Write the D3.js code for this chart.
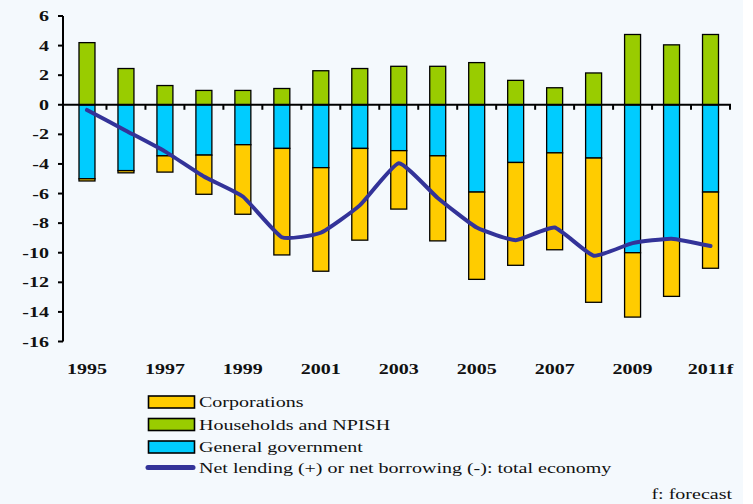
<!DOCTYPE html>
<html>
<head>
<meta charset="utf-8">
<script src="https://cdn.jsdelivr.net/npm/d3@7"></script>
<style>
  html, body { margin: 0; padding: 0; background: #ffffff; }
  svg { display: block; }
  text { font-family: "Liberation Serif", "Times New Roman", serif; fill: #111; }
</style>
</head>
<body>
<svg id="chart" width="753" height="504"></svg>
<script>
// Net lending / borrowing by sector, % of GDP
const years = ["1995","1996","1997","1998","1999","2000","2001","2002","2003",
               "2004","2005","2006","2007","2008","2009","2010","2011"];
const tickLabels = ["1995","1997","1999","2001","2003","2005","2007","2009","2011f"];
const tickYears  = ["1995","1997","1999","2001","2003","2005","2007","2009","2011"];
const yTicks = [6, 4, 2, 0, -2, -4, -6, -8, -10, -12, -14, -16];

const households   = [4.2, 2.45, 1.3, 0.97, 0.97, 1.1, 2.3, 2.45, 2.6, 2.6, 2.85, 1.65, 1.15, 2.15, 4.75, 4.05, 4.75];
const government   = [-5.0, -4.45, -3.45, -3.4, -2.7, -2.95, -4.25, -2.95, -3.1, -3.45, -5.9, -3.9, -3.25, -3.6, -10.0, -9.05, -5.9];
const corporations = [-0.15, -0.15, -1.1, -2.65, -4.7, -7.2, -7.0, -6.2, -3.95, -5.75, -5.9, -6.95, -6.55, -9.75, -4.35, -3.9, -5.15];
const netLending   = [-0.35, -1.75, -3.15, -4.85, -6.2, -8.95, -8.65, -6.8, -3.95, -6.3, -8.3, -9.15, -8.3, -10.2, -9.35, -9.05, -9.55];

const seriesNames = ["Corporations", "Households and NPISH", "General government",
                     "Net lending (+) or net borrowing (-): total economy"];
const colors = { corp: "#FFCC00", hh: "#99CC00", gov: "#00CCFF", line: "#333399" };

const svg = d3.select("#chart");
const STRETCH = 1.38;   // wide type used throughout the figure

// background panel
svg.append("rect").attr("x", 0).attr("y", 0).attr("width", 743).attr("height", 504)
   .attr("fill", "#F4F9FD");

const x = d3.scaleBand().domain(years).range([67.5, 730]).padding(0);
const y = d3.scaleLinear().domain([-16, 6]).range([341.5, 16]);
const bw = x.bandwidth() * 0.41;
const cx = d => x(d) + x.bandwidth() / 2;

// stacked bars: government next to zero, corporations below it, households above
const g = svg.append("g");
years.forEach((yr, i) => {
  const segs = [
    { y0: 0, y1: households[i], c: colors.hh },
    { y0: 0, y1: government[i], c: colors.gov },
    { y0: government[i], y1: government[i] + corporations[i], c: colors.corp }
  ];
  segs.forEach(s => {
    g.append("rect")
      .attr("x", cx(yr) - bw / 2)
      .attr("y", y(Math.max(s.y0, s.y1)))
      .attr("width", bw)
      .attr("height", Math.abs(y(s.y0) - y(s.y1)))
      .attr("fill", s.c)
      .attr("stroke", "#000")
      .attr("stroke-width", 1.3);
  });
});

// net lending line, lightly smoothed
const line = d3.line()
  .x((d, i) => cx(years[i]))
  .y(d => y(d))
  .curve(d3.curveCardinal.tension(0.55));
svg.append("path").datum(netLending)
  .attr("d", line)
  .attr("fill", "none")
  .attr("stroke", colors.line)
  .attr("stroke-width", 4)
  .attr("stroke-linejoin", "round")
  .attr("stroke-linecap", "round");

// y axis
svg.append("line").attr("x1", 63).attr("x2", 63).attr("y1", y(6)).attr("y2", y(-16))
   .attr("stroke", "#000").attr("stroke-width", 2);
yTicks.forEach(v => {
  svg.append("line").attr("x1", 58).attr("x2", 63).attr("y1", y(v)).attr("y2", y(v))
     .attr("stroke", "#000").attr("stroke-width", 2);
  svg.append("text")
     .attr("transform", `translate(49,${y(v) + 5}) scale(${STRETCH},1)`)
     .attr("text-anchor", "end")
     .attr("font-size", "14.5px").attr("font-weight", "bold")
     .text(v);
});

// category axis along zero
svg.append("line").attr("x1", 63).attr("x2", 731).attr("y1", y(0)).attr("y2", y(0))
   .attr("stroke", "#000").attr("stroke-width", 2);
years.forEach((yr, i) => {
  if (i === 0) return;
  svg.append("line").attr("x1", x(yr)).attr("x2", x(yr))
     .attr("y1", y(0)).attr("y2", y(0) + 5)
     .attr("stroke", "#000").attr("stroke-width", 2);
});
svg.append("line").attr("x1", 730).attr("x2", 730).attr("y1", y(0)).attr("y2", y(0) + 5)
   .attr("stroke", "#000").attr("stroke-width", 2);

tickYears.forEach((yr, i) => {
  svg.append("text")
     .attr("transform", `translate(${cx(yr)},374) scale(${STRETCH},1)`)
     .attr("text-anchor", "middle")
     .attr("font-size", "14.5px").attr("font-weight", "bold")
     .text(tickLabels[i]);
});

// legend
const rowY = [402, 424.5, 447, 467.5];
const swatchColors = [colors.corp, colors.hh, colors.gov];
swatchColors.forEach((c, i) => {
  svg.append("rect").attr("x", 148.5).attr("y", rowY[i] - 6).attr("width", 46).attr("height", 12)
     .attr("fill", c).attr("stroke", "#000").attr("stroke-width", 1.6);
});
svg.append("line").attr("x1", 148).attr("x2", 193).attr("y1", rowY[3]).attr("y2", rowY[3])
   .attr("stroke", colors.line).attr("stroke-width", 5).attr("stroke-linecap", "round");
seriesNames.forEach((name, i) => {
  svg.append("text")
     .attr("transform", `translate(199,${rowY[i] + 5}) scale(${STRETCH},1)`)
     .attr("font-size", "14.5px")
     .text(name);
});

svg.append("text")
   .attr("transform", `translate(732,499) scale(${STRETCH},1)`)
   .attr("text-anchor", "end")
   .attr("font-size", "14.5px")
   .text("f: forecast");
</script>
</body>
</html>
